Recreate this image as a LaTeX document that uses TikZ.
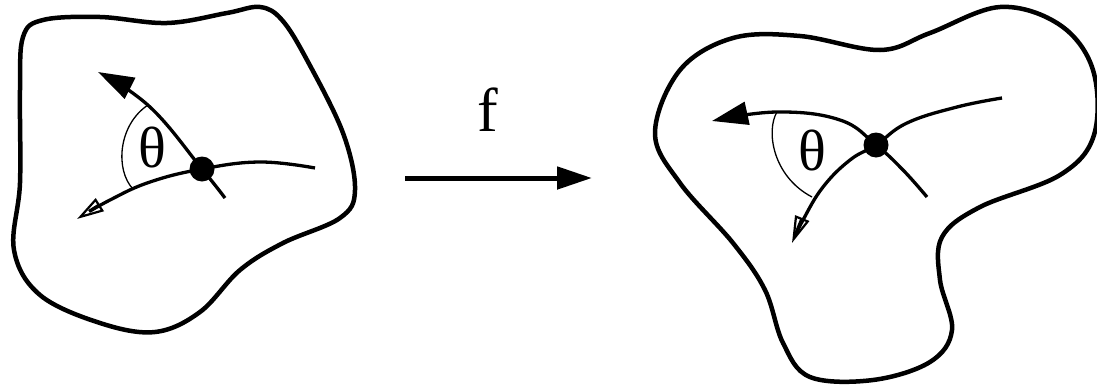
\documentclass[tikz,border=0pt]{standalone}
\usepackage{fontspec}
\setmainfont{Liberation Serif}
\usetikzlibrary{arrows.meta}

\begin{document}
\begin{tikzpicture}[x=1pt, y=-1pt,
    contorno/.style={line width=4.5pt, line join=round},
    curva/.style={line width=3.3pt},
    cheia/.style={-{Triangle[length=36pt, width=23pt]}},
    vazia/.style={-{Triangle[open, length=27pt, width=15pt, line width=2.2pt]}},
    angulo/.style={line width=1.3pt},
    rotulo/.style={inner sep=0pt, font=\fontsize{58}{58}\selectfont}]
  \useasboundingbox (0,0) rectangle (1097,386);

  % Dominio de partida
  \draw[contorno] plot[smooth cycle, tension=0.6] coordinates {
    (23,37) (43,20) (100,17) (167,23) (227,13) (260,7) (282,20) (307,60)
    (343,133) (355,190) (340,218) (283,243) (240,270) (200,312) (155,332)
    (100,323) (40,295) (14,250) (20,183) (20,90)};

  % Dominio de chegada
  \draw[contorno] plot[smooth cycle, tension=0.6] coordinates {
    (655,133) (680,70) (733,38) (800,36) (880,50) (930,33) (1000,7)
    (1060,25) (1093,70) (1094,135) (1060,175) (980,207) (942,237) (940,280)
    (952,330) (930,362) (873,380) (810,377) (783,343) (765,290) (733,243)
    (680,183)};

  % Pontos de cruzamento
  \coordinate (pL) at (202,169);
  \coordinate (pR) at (876,145);

  % Curvas no dominio de partida
  \draw[curva, cheia] plot[smooth, tension=0.7] coordinates {
    (225,198) (pL) (150,107) (98,72)};
  \draw[curva, vazia] plot[smooth, tension=0.7] coordinates {
    (315,168) (260,162) (pL) (150,182) (110,200) (77,219)};
  \draw[angulo] (148,105) .. controls (118,125) and (115,170) .. (133,189);

  % Curvas no dominio de chegada
  \draw[curva, cheia] plot[smooth, tension=0.7] coordinates {
    (927,197) (903,170) (pR) (840,120) (777,112) (712,121)};
  \draw[curva, vazia] plot[smooth, tension=0.7] coordinates {
    (1002,98) (957,107) (907,123) (pR) (850,160) (823,187) (803,220) (792,243)};
  \draw[angulo] (777,112) .. controls (766,130) and (772,176) .. (812,197);

  \foreach \p in {pL,pR} {
    \fill (\p) circle (12.5pt);
  }

  \node[rotulo] (thetaL) at (152,148) {θ};
  \node[rotulo] (thetaR) at (812,151) {θ};

  % Aplicacao f
  \coordinate (mapL) at (405,178);
  \coordinate (mapR) at (592,178);
  \draw[line width=5pt, -{Triangle[length=35pt, width=22pt]}] (mapL) -- (mapR);
  \node[inner sep=0pt, font=\fontsize{62}{62}\selectfont] (fmap) at (488,110) {f};
\end{tikzpicture}
\end{document}
